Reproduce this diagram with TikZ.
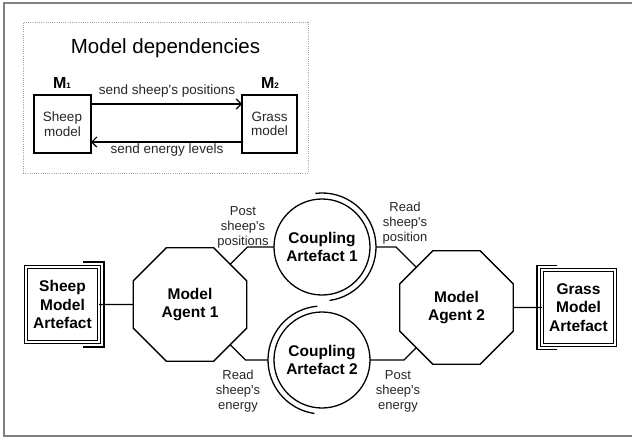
\documentclass[tikz,border=0pt]{standalone}
\usepackage{fontspec}
\setmainfont{Liberation Sans}
\usetikzlibrary{calc,shapes.geometric,arrows.meta}
\newcommand{\smallsub}[1]{{\fontsize{8}{8}\selectfont\raisebox{-0.5pt}{#1}}}
\begin{document}
\begin{tikzpicture}[x=1pt,y=-1pt,
  conn/.style={line width=1.3pt},
  agent/.style={regular polygon, regular polygon sides=8, minimum size=123pt,
    inner sep=0pt, outer sep=0pt, draw, line width=1.3pt, align=center,
    font=\fontsize{15.5}{18.5}\selectfont\bfseries},
  coup/.style={circle, minimum size=96pt, inner sep=0pt, outer sep=0pt, draw,
    line width=1.3pt, align=center, font=\fontsize{15.5}{18}\selectfont\bfseries},
  artbox/.style={rectangle, draw, double, double distance=1.8pt, line width=1.1pt,
    inner sep=0pt, outer sep=0pt, minimum width=73pt, minimum height=75pt, align=center,
    font=\fontsize{15.5}{18.5}\selectfont\bfseries},
  lbl/.style={font=\fontsize{13}{15}\selectfont, align=center, inner sep=0pt, text=black!85},
  mbox/.style={draw, line width=1.3pt, minimum width=57pt, minimum height=58pt,
    inner sep=0pt, outer sep=0pt, align=center, font=\fontsize{13.5}{14.5}\selectfont, text=black!85},
  mlab/.style={font=\fontsize{16}{16}\selectfont\bfseries, anchor=base, inner sep=0pt},
  alab/.style={font=\fontsize{13.5}{15}\selectfont, anchor=base, inner sep=0pt, text=black!85},
  barb/.style={-{Straight Barb[length=5pt,width=10pt,line width=1.2pt]}}
]
\useasboundingbox (0,0) rectangle (632,439);
% outer frame
\draw[gray, line width=1.2pt] (632,3) -- (4,3) -- (4,436) -- (632,436);

% ---- model dependencies box
\node[draw=gray!70, line width=0.8pt, dash pattern=on 1pt off 1.2pt,
      minimum width=285pt, minimum height=151pt, inner sep=0pt] (dep) at (165.5,97.5) {};
\node[font=\fontsize{20.5}{24}\selectfont, anchor=base, inner sep=0pt] (title) at (165.5,53) {Model dependencies};
\node[mbox] (sm) at (62.5,124) {Sheep\\model};
\node[mbox, minimum width=55pt] (gm) at (269.5,124) {Grass\\model};
\node[mlab] (m1) at (62,88) {M\smallsub{1}};
\node[mlab] (m2) at (270,88) {M\smallsub{2}};
\draw[conn, barb] ([yshift=20pt]sm.east) -- ([yshift=20pt]gm.west);
\draw[conn, barb] ([yshift=-18pt]gm.west) -- ([yshift=-18pt]sm.east);
\node[alab] (a1) at (167,94.5) {send sheep\textquotesingle s positions};
\node[alab] (a2) at (167,153.5) {send energy levels};

% ---- lower diagram
\node[artbox] (sma) at (62.5,304.5) {Sheep\\Model\\Artefact};
\node[artbox] (gma) at (578.5,307.5) {Grass\\Model\\Artefact};
\draw[conn] ($(sma.east)+(-16,-42.5)$) -- ++(21,0) -- ++(0,85) -- ++(-21,0);
\draw[conn] ($(gma.west)+(15,-42)$) -- ++(-20,0) -- ++(0,84) -- ++(20,0);

\node[agent] (ag1) at (190,304.5) {Model\\Agent 1};
\node[agent] (ag2) at (456.5,307.5) {Model\\Agent 2};

\node[coup] (ca1) at (322,247) {Coupling\\Artefact 1};
\node[coup] (ca2) at (322,360) {Coupling\\Artefact 2};
\draw[conn] (ca1.center) ++(97:54pt) arc[start angle=97, end angle=-82, radius=54pt];
\draw[conn] (ca2.center) ++(95:54pt) arc[start angle=95, end angle=262, radius=54pt];
\coordinate (ca1r) at ($(ca1.center)+(54,0)$);
\coordinate (ca2l) at ($(ca2.center)+(-54,0)$);

\draw[conn] (sma.east) -- (ag1.west);
\draw[conn] (ag2.east) -- (gma.west);
\draw[conn] let \p1=(ag1.north east), \p2=(ca1.west) in (\p1) -- (\x1+\y2-\y1,\y2) -- (\p2);
\draw[conn] let \p1=(ag2.north west), \p2=(ca1r) in (\p2) -- (\x1-\y2+\y1,\y2) -- (\p1);
\draw[conn] let \p1=(ag1.south east), \p2=(ca2l) in (\p1) -- (\x1+\y1-\y2,\y2) -- (\p2);
\draw[conn] let \p1=(ag2.south west), \p2=(ca2.east) in (\p2) -- (\x1-\y1+\y2,\y2) -- (\p1);

\node[lbl] (l1) at (243,227) {Post\\sheep\textquotesingle s\\positions};
\node[lbl] (l2) at (405,223) {Read\\sheep\textquotesingle s\\position};
\node[lbl] (l3) at (238,391) {Read\\sheep\textquotesingle s\\energy};
\node[lbl] (l4) at (398,391) {Post\\sheep\textquotesingle s\\energy};
\end{tikzpicture}
\end{document}
